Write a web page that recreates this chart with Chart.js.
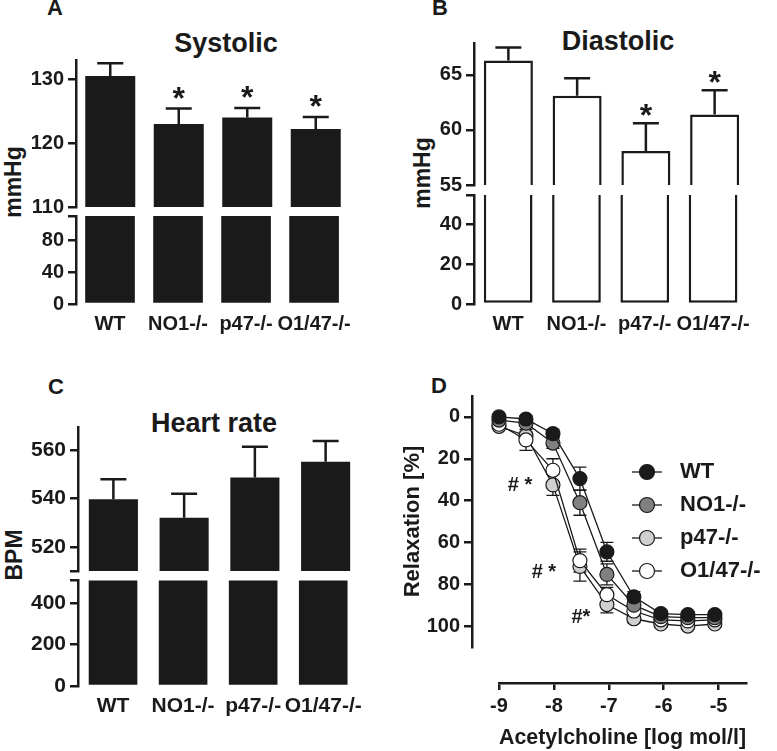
<!DOCTYPE html>
<html>
<head>
<meta charset="utf-8">
<script src="https://cdn.jsdelivr.net/npm/chart.js@4.4.1/dist/chart.umd.min.js"></script>
<style>
  body { margin: 0; width: 777px; height: 751px; position: relative; overflow: hidden; background: #fff;
         font-family: "Liberation Sans", Arial, sans-serif; font-weight: bold; color: #1a1a1a; }
  canvas { position: absolute; }
  .txt { position: absolute; line-height: 1; white-space: nowrap; }
  .rot { position: absolute; line-height: 1; white-space: nowrap; transform: translate(-50%, -50%) rotate(-90deg); }
</style>
</head>
<body>
<div class="txt" style="left:47px;top:-3px;font-size:22px">A</div>
<div class="txt" style="left:432px;top:-3px;font-size:22px">B</div>
<div class="txt" style="left:48px;top:376px;font-size:22px">C</div>
<div class="txt" style="left:431px;top:375px;font-size:22px">D</div>

<div class="txt" style="left:126px;width:200px;text-align:center;top:30px;font-size:27px">Systolic</div>
<div class="txt" style="left:518px;width:200px;text-align:center;top:28px;font-size:27px">Diastolic</div>
<div class="txt" style="left:114px;width:200px;text-align:center;top:410px;font-size:27px">Heart rate</div>

<div class="rot" style="left:13px;top:182px;font-size:23px">mmHg</div>
<div class="rot" style="left:422px;top:173px;font-size:23px">mmHg</div>
<div class="rot" style="left:14px;top:555px;font-size:23px">BPM</div>

<canvas id="sysTop" width="360" height="187" style="left:0;top:40px"></canvas>
<canvas id="sysBottom" width="360" height="144" style="left:0;top:200px"></canvas>
<canvas id="diaTop" width="359" height="182" style="left:400px;top:23px"></canvas>
<canvas id="diaBottom" width="359" height="165" style="left:400px;top:179px"></canvas>
<canvas id="hrTop" width="371" height="184" style="left:0;top:407px"></canvas>
<canvas id="hrBottom" width="371" height="162" style="left:0;top:564px"></canvas>
<canvas id="relax" width="350" height="283" style="left:400px;top:380px"></canvas>
<canvas id="relaxX" width="276" height="96" style="left:480px;top:662px"></canvas>
<canvas id="relaxLegend" width="320" height="160" style="left:614px;top:450px"></canvas>

<script>
Chart.defaults.font.family = '"Liberation Sans", Arial, sans-serif';
Chart.defaults.font.weight = 'bold';
Chart.defaults.color = '#1a1a1a';

// grupos
const groups = ['WT', 'NO1-/-', 'p47-/-', 'O1/47-/-'];

// A - sistolica
const systolic = [130.5, 123.0, 124.0, 122.2];
const systolicErr = [2.0, 2.4, 1.5, 1.9];
const systolicSig = ['', '*', '*', '*'];
const sysTicksTop = [110, 120, 130];
const sysTicksBottom = [0, 40, 80];

// B - diastolica
const diastolic = [66.3, 63.1, 58.1, 61.4];
const diastolicErr = [1.2, 1.6, 2.5, 2.2];
const diastolicSig = ['', '', '*', '*'];
const diaTicksTop = [55, 60, 65];
const diaTicksBottom = [0, 20, 40];

// C - frequencia cardiaca
const heartRate = [539.7, 532.0, 548.7, 555.2];
const heartRateErr = [8.3, 10.0, 12.7, 8.6];
const hrTicksTop = [520, 540, 560];
const hrTicksBottom = [0, 200, 400];

// D - relaxamento
const logAch = [-9, -8.5, -8, -7.5, -7, -6.5, -6, -5.5, -5];
const series = ['WT', 'NO1-/-', 'p47-/-', 'O1/47-/-'];
const relaxWT = [0, 1, 8, 29.5, 64.5, 86, 94, 94.5, 94.5];
const relaxNO1 = [1.5, 3, 12.5, 41, 75.3, 90, 95.5, 96, 96];
const relaxP47 = [4.5, 9, 32.5, 71.5, 89.7, 96.5, 99, 100, 99];
const relaxO147 = [3.5, 11, 25.5, 68.7, 85, 92.8, 97, 97.5, 97];
const errWT = [1, 1.5, 2, 5.5, 4.5, 2.5, 1.5, 1.5, 1.5];
const errNO1 = [1, 1.5, 2.5, 6, 5, 2, 1.5, 1.5, 1.5];
const errP47 = [1, 2, 5, 7, 4, 2, 1.5, 1.5, 1.5];
const errO147 = [1, 5, 5.5, 5.5, 3.5, 2, 1.5, 1.5, 1.5];
const signifDose = [-8, -7.5, -7];
const signifText = ['# *', '# *', '#*'];

const ink = '#1a1a1a';

// barras de erro + asteriscos por cima das barras
function errorBars(values, err, sig, starGap) {
    return {
        id: 'errorBars',
        afterDatasetsDraw(chart) {
            const ctx = chart.ctx;
            const y = chart.scales.y;
            const bars = chart.getDatasetMeta(0).data;
            ctx.save();
            ctx.strokeStyle = ink;
            ctx.fillStyle = ink;
            ctx.lineWidth = 2.5;
            bars.forEach((bar, i) => {
                const y0 = y.getPixelForValue(values[i]);
                const y1 = y.getPixelForValue(values[i] + err[i]);
                ctx.beginPath();
                ctx.moveTo(bar.x, y0);
                ctx.lineTo(bar.x, y1);
                ctx.moveTo(bar.x - 13, y1);
                ctx.lineTo(bar.x + 13, y1);
                ctx.stroke();
                if (sig && sig[i]) {
                    ctx.font = 'bold 32px "Liberation Sans"';
                    ctx.textAlign = 'center';
                    ctx.textBaseline = 'alphabetic';
                    ctx.fillText(sig[i], bar.x, y1 - starGap + 18);
                }
            });
            ctx.restore();
        }
    };
}

function barPart(id, o) {
    const ticks = o.ticks;
    return new Chart(document.getElementById(id), {
        type: 'bar',
        data: {
            labels: groups,
            datasets: [{
                data: o.values,
                backgroundColor: o.fill,
                borderColor: ink,
                borderWidth: o.border,
                borderSkipped: false,
                barPercentage: o.barPct,
                categoryPercentage: 1,
                clip: o.top ? {left: false, right: false, top: false, bottom: 0} : {left: false, right: false, top: 0, bottom: false}
            }]
        },
        options: {
            responsive: false,
            animation: false,
            layout: { padding: o.pad },
            plugins: { legend: { display: false }, tooltip: { enabled: false } },
            scales: {
                x: {
                    display: !o.top,
                    grid: { display: false, drawTicks: false },
                    border: { display: false },
                    ticks: { font: { size: o.catSize }, padding: 8, maxRotation: 0, autoSkip: false },
                    afterFit: s => { s.height = o.top ? 0 : 40; }
                },
                y: {
                    min: o.min,
                    max: o.max,
                    afterBuildTicks: s => { s.ticks = ticks.map(v => ({ value: v })); },
                    ticks: { font: { size: o.tickSize }, padding: 4, callback: v => o.blank === v ? '' : v },
                    grid: { display: true, drawOnChartArea: false, drawTicks: true, tickLength: 8, lineWidth: 2.5, color: ink },
                    border: { display: true, width: 2.5, color: ink },
                    afterFit: s => { s.width = o.axisW; }
                }
            }
        },
        plugins: o.err ? [errorBars(o.values, o.err, o.sig, o.starGap)] : []
    });
}

// Painel A
barPart('sysTop', { values: systolic, err: systolicErr, sig: systolicSig, starGap: 18, top: true,
    fill: ink, border: 0, barPct: 0.73, min: 110, max: 133, ticks: sysTicksTop, tickSize: 20, catSize: 20,
    axisW: 76, pad: { top: 20, bottom: 20, left: 0, right: 10 } });
barPart('sysBottom', { values: systolic, top: false,
    fill: ink, border: 0, barPct: 0.73, min: 0, max: 110, ticks: sysTicksBottom.concat(110), blank: 110, tickSize: 20, catSize: 20,
    axisW: 76, pad: { top: 13, bottom: 0, left: 0, right: 10 } });

// Painel B
barPart('diaTop', { values: diastolic, err: diastolicErr, sig: diastolicSig, starGap: 15, top: true,
    fill: '#ffffff', border: 2.5, barPct: 0.713, min: 55, max: 67.9, ticks: diaTicksTop, tickSize: 20, catSize: 20,
    axisW: 74, pad: { top: 20, bottom: 20, left: 0, right: 10 } });
barPart('diaBottom', { values: diastolic, top: false,
    fill: '#ffffff', border: 2.5, barPct: 0.713, min: 0, max: 55, ticks: diaTicksBottom.concat(55), blank: 55, tickSize: 20, catSize: 20,
    axisW: 74, pad: { top: 13, bottom: 0, left: 0, right: 10 } });

// Painel C
barPart('hrTop', { values: heartRate, err: heartRateErr, top: true,
    fill: ink, border: 0, barPct: 0.694, min: 510, max: 569.6, ticks: [510].concat(hrTicksTop), blank: 510, tickSize: 21, catSize: 21,
    axisW: 78, pad: { top: 20, bottom: 20, left: 0, right: 10 } });
barPart('hrBottom', { values: heartRate, top: false,
    fill: ink, border: 0, barPct: 0.694, min: 0, max: 510, ticks: hrTicksBottom.concat(510), blank: 510, tickSize: 21, catSize: 21,
    axisW: 78, pad: { top: 13, bottom: 0, left: 0, right: 10 } });

// Painel D
const relaxSets = [relaxWT, relaxNO1, relaxP47, relaxO147];
const relaxErrs = [errWT, errNO1, errP47, errO147];
const fills = ['#1a1a1a', '#808080', '#d0d0d0', '#ffffff'];
const zOrder = [0, 1, 3, 2];

const relaxPlugin = {
    id: 'relaxExtras',
    beforeDatasetsDraw(chart) {
        const ctx = chart.ctx, xs = chart.scales.x, ys = chart.scales.y;
        ctx.save();
        ctx.strokeStyle = ink;
        ctx.lineWidth = 1.3;
        relaxSets.forEach((vals, s) => {
            vals.forEach((v, i) => {
                const x = xs.getPixelForValue(logAch[i]);
                const a = ys.getPixelForValue(v - relaxErrs[s][i]);
                const b = ys.getPixelForValue(v + relaxErrs[s][i]);
                ctx.beginPath();
                ctx.moveTo(x, a); ctx.lineTo(x, b);
                ctx.moveTo(x - 6.5, a); ctx.lineTo(x + 6.5, a);
                ctx.moveTo(x - 6.5, b); ctx.lineTo(x + 6.5, b);
                ctx.stroke();
            });
        });
        ctx.restore();
    },
    afterDatasetsDraw(chart) {
        const ctx = chart.ctx, xs = chart.scales.x, ys = chart.scales.y;
        const offs = [[-33, 1], [-36, 6], [-26, 13]];
        ctx.save();
        ctx.fillStyle = ink;
        ctx.font = 'bold 20px "Liberation Sans"';
        ctx.textAlign = 'center';
        ctx.textBaseline = 'middle';
        signifDose.forEach((d, k) => {
            const i = logAch.indexOf(d);
            const x = xs.getPixelForValue(d) + offs[k][0];
            const y = ys.getPixelForValue(relaxP47[i]) + offs[k][1];
            ctx.fillText(signifText[k], x, y);
        });
        ctx.restore();
    }
};

new Chart(document.getElementById('relax'), {
    type: 'line',
    data: {
        datasets: relaxSets.map((vals, s) => ({
            label: series[s],
            data: vals.map((v, i) => ({ x: logAch[i], y: v })),
            borderColor: ink,
            borderWidth: 1.3,
            backgroundColor: fills[s],
            pointBackgroundColor: fills[s],
            pointBorderColor: ink,
            pointBorderWidth: 1.2,
            pointRadius: 7,
            tension: 0,
            order: zOrder[s]
        }))
    },
    options: {
        responsive: false,
        animation: false,
        layout: { padding: { top: 15, bottom: 10, left: 0, right: 4 } },
        plugins: { legend: { display: false }, tooltip: { enabled: false } },
        scales: {
            x: { type: 'linear', display: false, min: -9.5, max: -4.5 },
            y: {
                reverse: true,
                min: -10,
                max: 110,
                afterBuildTicks: s => { s.ticks = [0, 20, 40, 60, 80, 100].map(v => ({ value: v })); },
                ticks: { font: { size: 20 }, padding: 4 },
                grid: { display: true, drawOnChartArea: false, drawTicks: true, tickLength: 8, lineWidth: 2.5, color: ink },
                border: { display: true, width: 2.5, color: ink },
                title: { display: true, text: 'Relaxation [%]', font: { size: 22 }, padding: { top: 0, bottom: 0 } },
                afterFit: s => { s.width = 72; }
            }
        }
    },
    plugins: [relaxPlugin]
});

// eixo x separado (deslocado para baixo)
new Chart(document.getElementById('relaxX'), {
    type: 'scatter',
    data: { datasets: [{ data: [] }] },
    options: {
        responsive: false,
        animation: false,
        layout: { padding: { top: 10, bottom: 0, left: 19, right: 10 } },
        plugins: { legend: { display: false }, tooltip: { enabled: false } },
        scales: {
            x: {
                type: 'linear',
                min: -9,
                max: -4.5,
                afterBuildTicks: s => { s.ticks = [-9, -8, -7, -6, -5].map(v => ({ value: v })); },
                ticks: { font: { size: 20 }, padding: 4 },
                grid: { display: true, drawOnChartArea: false, drawTicks: true, tickLength: 7, lineWidth: 2.5, color: ink },
                border: { display: true, width: 2.5, color: ink },
                title: { display: true, text: 'Acetylcholine [log mol/l]', font: { size: 22 }, padding: { top: 4, bottom: 7 } },
                afterFit: s => { s.height = 75; }
            },
            y: { display: false, min: 0, max: 1 }
        }
    }
});

// legenda com marcador linha + circulo
const markers = fills.map(f => {
    const c = document.createElement('canvas');
    c.width = 30; c.height = 18;
    const g = c.getContext('2d');
    g.strokeStyle = ink;
    g.lineWidth = 1.3;
    g.beginPath(); g.moveTo(0, 9); g.lineTo(30, 9); g.stroke();
    g.beginPath(); g.arc(15, 9, 7.5, 0, Math.PI * 2);
    g.fillStyle = f; g.fill();
    g.lineWidth = 1.2; g.stroke();
    return c;
});

new Chart(document.getElementById('relaxLegend'), {
    type: 'line',
    data: { datasets: series.map(s => ({ label: s, data: [] })) },
    options: {
        responsive: false,
        animation: false,
        scales: { x: { display: false }, y: { display: false } },
        plugins: {
            tooltip: { enabled: false },
            legend: {
                position: 'left',
                align: 'start',
                maxWidth: 220,
                labels: {
                    usePointStyle: true,
                    pointStyleWidth: 44,
                    padding: 11,
                    font: { size: 22 },
                    color: ink,
                    generateLabels: () => series.map((s, i) => ({
                        text: s, pointStyle: markers[i], lineWidth: 0, hidden: false, datasetIndex: i, fontColor: ink
                    }))
                }
            }
        }
    }
});
</script>
</body>
</html>
